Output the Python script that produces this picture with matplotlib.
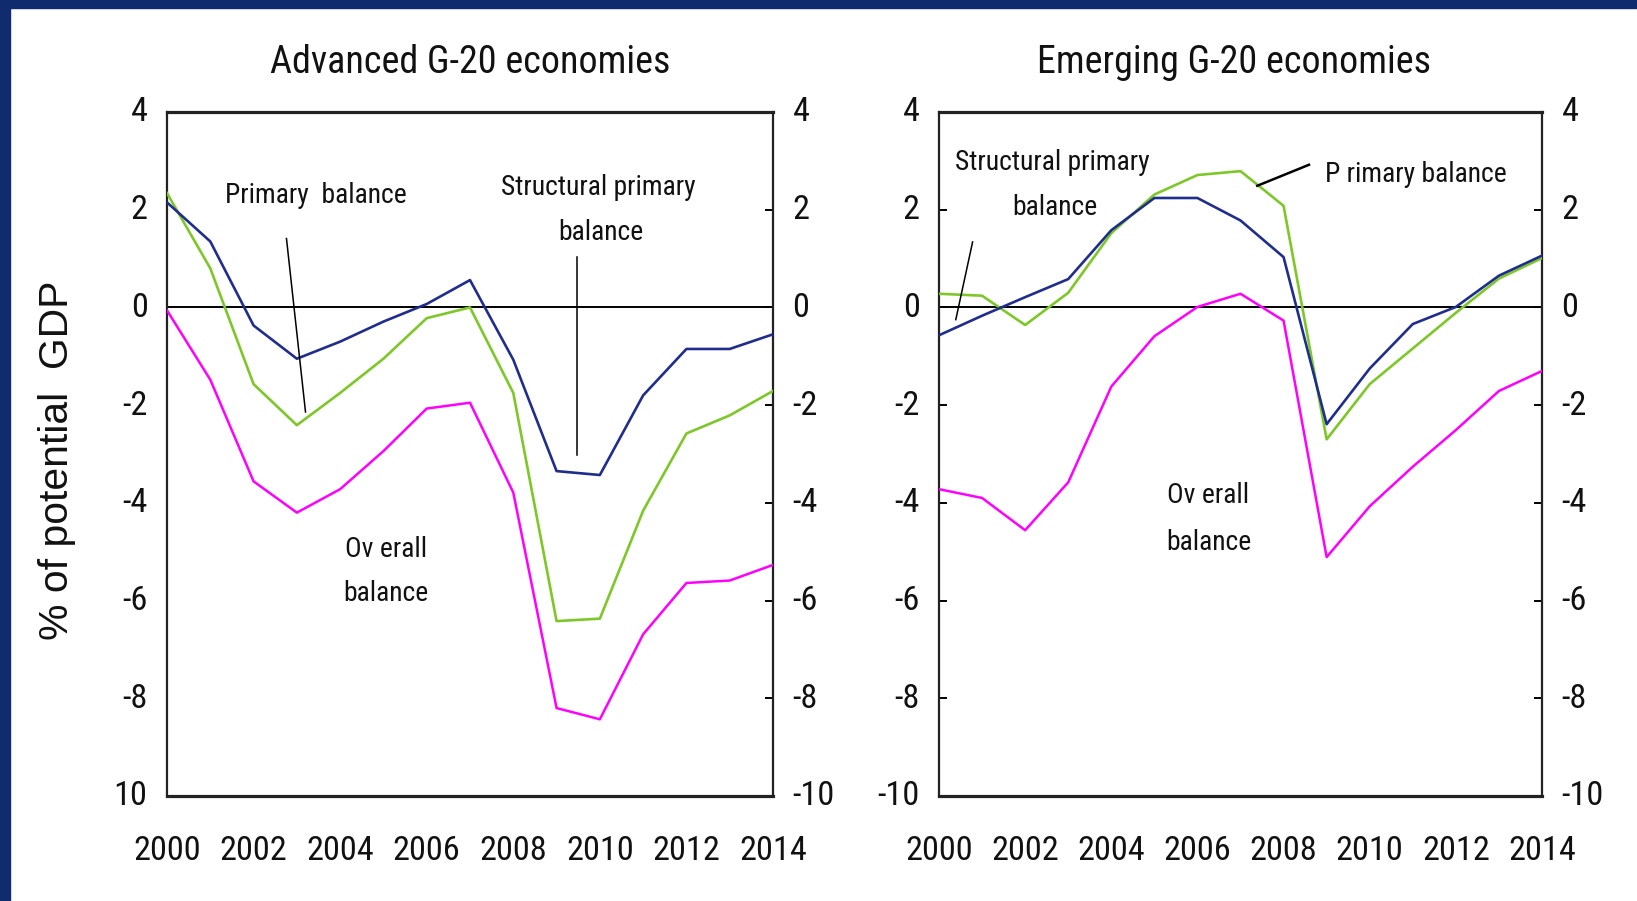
import os
import matplotlib
matplotlib.use('Agg')
import matplotlib.pyplot as plt
from matplotlib import font_manager as fm
from matplotlib.font_manager import FontProperties
from matplotlib.textpath import TextPath
from matplotlib.patches import Rectangle

# ---------------- data ----------------
years = list(range(2000, 2015))
adv_structural = [2.15, 1.35, -0.37, -1.05, -0.70, -0.29, 0.07, 0.56, -1.07, -3.35, -3.43, -1.80, -0.85, -0.85, -0.55]
adv_primary = [2.34, 0.80, -1.57, -2.41, -1.75, -1.05, -0.22, 0.00, -1.75, -6.42, -6.37, -4.16, -2.58, -2.21, -1.71]
adv_overall = [-0.06, -1.48, -3.56, -4.20, -3.72, -2.94, -2.07, -1.95, -3.79, -8.20, -8.43, -6.69, -5.64, -5.59, -5.27]
emg_structural = [-0.57, -0.17, 0.21, 0.58, 1.58, 2.24, 2.24, 1.78, 1.03, -2.39, -1.25, -0.34, 0.01, 0.65, 1.06]
emg_primary = [0.28, 0.24, -0.36, 0.30, 1.52, 2.31, 2.71, 2.79, 2.08, -2.70, -1.57, -0.84, -0.11, 0.59, 1.01]
emg_overall = [-3.72, -3.90, -4.56, -3.58, -1.62, -0.59, 0.01, 0.28, -0.27, -5.11, -4.07, -3.26, -2.51, -1.71, -1.30]

xtick_years = [2000, 2002, 2004, 2006, 2008, 2010, 2012, 2014]
xtick_labels = [str(y) for y in xtick_years]
ytick_values = [4, 2, 0, -2, -4, -6, -8, -10]
ytick_labels = ['4', '2', '0', '-2', '-4', '-6', '-8', '-10']
ytick_labels_adv_left = ['4', '2', '0', '-2', '-4', '-6', '-8', '10']
titles = ['Advanced G-20 economies', 'Emerging G-20 economies']
ylabel = '% of potential  GDP'

# ---------------- fonts ----------------
def _regular(f):
    w = f.weight
    if isinstance(w, str):
        w = fm.weight_dict.get(w.lower(), 400)
    return f.style == 'normal' and 380 <= int(w) <= 420

def find_condensed():
    prefs = ['liberationsansnarrow', 'arialnarrow', 'notosansextracondensed',
             'robotocondensed', 'notosanscondensed', 'opensanscondensed',
             'dejavusanscondensed', 'notosanssemicondensed', 'opensanssemicondensed']
    entries = fm.fontManager.ttflist
    for p in prefs:
        for f in entries:
            key = (f.name + os.path.basename(f.fname)).lower()
            key = key.replace(' ', '').replace('-', '').replace('_', '')
            if p in key and _regular(f):
                return f.fname
    return None

names = {f.name for f in fm.fontManager.ttflist}
REG_FAMILY = 'Liberation Sans' if 'Liberation Sans' in names else 'DejaVu Sans'
cond_path = find_condensed()
if cond_path:
    NARROW_FP = FontProperties(fname=cond_path)
else:
    NARROW_FP = FontProperties(family=REG_FAMILY)
REG_FP = FontProperties(family=REG_FAMILY)

def _ext(s, fp):
    e = TextPath((0, 0), s, size=100, prop=fp).get_extents()
    return e.width, e.height

def fit(s, fp, w_px, h_px=None, slack=1.12):
    w, h = _ext(s, fp)
    size_w = 100 * (w_px * 0.72) / w
    if h_px is None:
        return size_w
    size_h = 100 * (h_px * 0.72) / h
    return min(size_h, size_w * slack)

TICK_FS = fit('2014', NARROW_FP, 65, 30, slack=1.0)
TITLE_FS = fit('Advanced G-20 economies', NARROW_FP, 395, 29)
ANN_FS = fit('Structural primary', NARROW_FP, 200)
ANN_FS = min(ANN_FS * 1.1, fit('Structural', NARROW_FP, 10000, 21))
YLAB_FS = fit(ylabel, REG_FP, 355)

def nfp(size):
    fp = NARROW_FP.copy()
    fp.set_size(size)
    return fp

NAVY_BORDER = '#112B6F'
C_STRUCT = '#1F2E8E'
C_PRIM = '#7DC828'
C_OVER = '#FF00FF'
TXT = '#111111'

W, H = 1637, 901
fig = plt.figure(figsize=(W / 100, H / 100), dpi=100)
fig.patch.set_facecolor('white')
fig.add_artist(Rectangle((0, 1 - 8 / H), 1, 8 / H, transform=fig.transFigure,
                         color=NAVY_BORDER, zorder=10))
fig.add_artist(Rectangle((0, 0), 10 / W, 1, transform=fig.transFigure,
                         color=NAVY_BORDER, zorder=10))

ax1 = fig.add_axes([167 / W, 1 - 796 / H, 606 / W, 684 / H])
ax2 = fig.add_axes([939 / W, 1 - 796 / H, 603 / W, 684 / H])

def ylabels(ax, labels, side):
    x = 0 if side == 'left' else 1
    dx = -14 if side == 'left' else 14
    ha = 'right' if side == 'left' else 'left'
    for v, lab in zip(ytick_values, labels):
        ax.annotate(lab, xy=(x, v), xycoords=('axes fraction', 'data'),
                    xytext=(dx, 2.2), textcoords='offset points', ha=ha,
                    va='center_baseline', fontproperties=nfp(TICK_FS), color=TXT,
                    annotation_clip=False)

def style(ax, left_ticks, left_labels):
    ax.set_xlim(2000, 2014)
    ax.set_ylim(-10, 4)
    ax.axhline(0, color='black', lw=1.4, zorder=1)
    for s in ['top', 'bottom']:
        ax.spines[s].set_linewidth(2.3)
        ax.spines[s].set_color('#222222')
    for s in ['left', 'right']:
        ax.spines[s].set_linewidth(1.6)
        ax.spines[s].set_color('#222222')
    ax.set_xticks(xtick_years)
    ax.set_xticklabels(xtick_labels)
    ax.tick_params(axis='x', length=0, pad=28, labelcolor=TXT)
    for lab in ax.get_xticklabels():
        lab.set_fontproperties(nfp(TICK_FS))
    ax.set_yticks(ytick_values)
    ax.tick_params(axis='y', direction='in', length=6, width=1.4,
                   left=left_ticks, right=True, labelleft=False, labelright=False)
    ylabels(ax, left_labels, 'left')
    ylabels(ax, ytick_labels, 'right')

style(ax1, False, ytick_labels_adv_left)
style(ax2, True, ytick_labels)

# titles
fig.text(470 / W, 1 - 73 / H, titles[0], ha='center', va='baseline',
         fontproperties=nfp(TITLE_FS), color=TXT)
fig.text(1234 / W, 1 - 73 / H, titles[1], ha='center', va='baseline',
         fontproperties=nfp(TITLE_FS), color=TXT)

# ---------------- series ----------------
for ax, st, pr, ov in [(ax1, adv_structural, adv_primary, adv_overall),
                       (ax2, emg_structural, emg_primary, emg_overall)]:
    ax.plot(years, ov, color=C_OVER, lw=1.8, zorder=3)
    ax.plot(years, pr, color=C_PRIM, lw=1.9, zorder=3)
    ax.plot(years, st, color=C_STRUCT, lw=1.9, zorder=4)

def note(ax, x, y, s):
    ax.text(x, y, s, ha='center', va='center', fontproperties=nfp(ANN_FS), color=TXT, zorder=6)

# left panel annotations
note(ax1, 2003.44, 2.30, 'Primary  balance')
note(ax1, 2009.96, 2.46, 'Structural primary')
note(ax1, 2010.03, 1.54, 'balance')
note(ax1, 2005.05, -4.96, 'Ov erall')
note(ax1, 2005.05, -5.86, 'balance')
ax1.plot([2002.76, 2003.20], [1.41, -2.14], color='black', lw=1.1, zorder=5)
ax1.plot([2009.47, 2009.47], [1.03, -3.03], color='black', lw=1.1, zorder=5)

# right panel annotations
note(ax2, 2002.62, 2.96, 'Structural primary')
note(ax2, 2002.69, 2.05, 'balance')
note(ax2, 2011.08, 2.73, 'P rimary balance')
note(ax2, 2006.25, -3.85, 'Ov erall')
note(ax2, 2006.27, -4.81, 'balance')
ax2.plot([2000.78, 2000.39], [1.34, -0.25], color='black', lw=1.1, zorder=5)
ax2.plot([2008.59, 2007.39], [2.92, 2.49], color='black', lw=1.8, zorder=5)

yl_fp = REG_FP.copy()
yl_fp.set_size(YLAB_FS)
fig.text(57 / W, 1 - 460 / H, ylabel, rotation=90, ha='center', va='center',
         fontproperties=yl_fp, color=TXT)

fig.savefig('out.png', dpi=100, facecolor='white')
